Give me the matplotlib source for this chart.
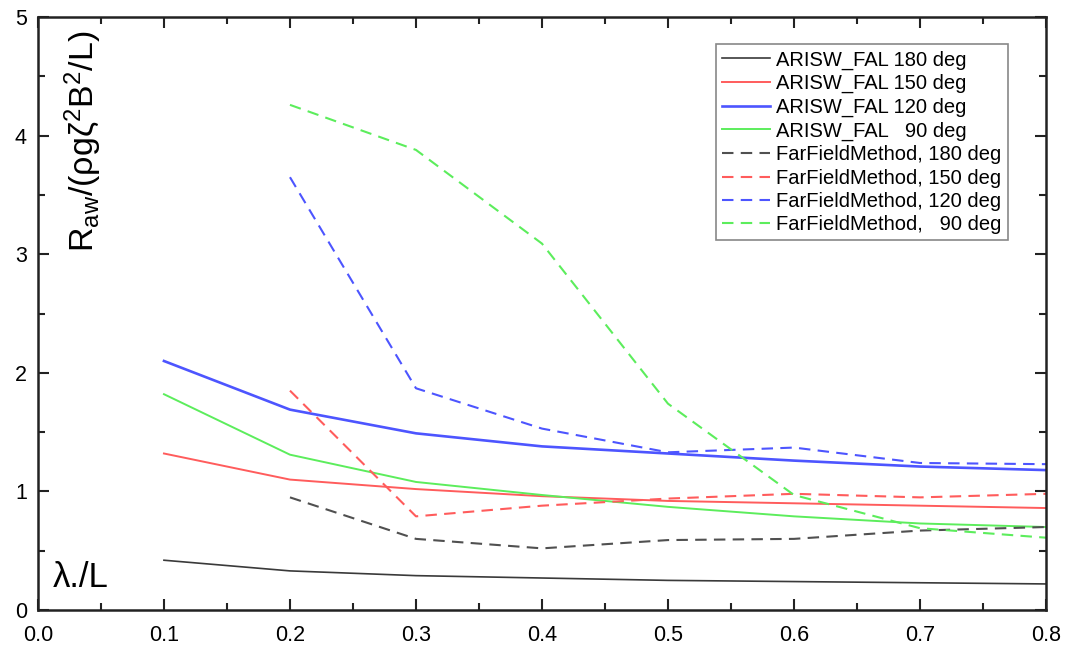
import numpy as np
import matplotlib
matplotlib.use('Agg')
import matplotlib.pyplot as plt
from matplotlib.ticker import MultipleLocator

plt.rcParams['font.family'] = ['Liberation Sans', 'DejaVu Sans']
plt.rcParams['mathtext.fontset'] = 'custom'
plt.rcParams['mathtext.rm'] = 'Liberation Sans'
plt.rcParams['mathtext.default'] = 'regular'

# wave length ratio
x_fal = [0.1, 0.2, 0.3, 0.4, 0.5, 0.6, 0.7, 0.8]
x_ffm = [0.2, 0.3, 0.4, 0.5, 0.6, 0.7, 0.8]

fal_180 = [0.42, 0.33, 0.29, 0.27, 0.25, 0.24, 0.23, 0.22]
fal_150 = [1.32, 1.10, 1.02, 0.96, 0.92, 0.90, 0.88, 0.86]
fal_120 = [2.10, 1.69, 1.49, 1.38, 1.32, 1.26, 1.21, 1.18]
fal_90 = [1.82, 1.31, 1.08, 0.97, 0.87, 0.79, 0.73, 0.70]

ffm_180 = [0.95, 0.60, 0.52, 0.59, 0.60, 0.67, 0.70]
ffm_150 = [1.85, 0.79, 0.88, 0.94, 0.98, 0.95, 0.98]
ffm_120 = [3.65, 1.87, 1.53, 1.33, 1.37, 1.24, 1.23]
ffm_90 = [4.26, 3.88, 3.09, 1.74, 0.97, 0.69, 0.61]

c_black = '#3a3a3a'
c_red = '#ff5c5c'
c_blue = '#4d55ff'
c_green = '#5ced5c'
c_gray = '#505050'

fig = plt.figure(figsize=(10.69, 6.48), dpi=100)
ax = fig.add_axes([0.0355, 0.0586, 0.943, 0.915])

ax.plot(x_fal, fal_180, color=c_black, lw=1.2, label='ARISW_FAL 180 deg')
ax.plot(x_fal, fal_150, color=c_red, lw=1.4, label='ARISW_FAL 150 deg')
ax.plot(x_fal, fal_120, color=c_blue, lw=1.9, label='ARISW_FAL 120 deg')
ax.plot(x_fal, fal_90, color=c_green, lw=1.4, label='ARISW_FAL   90 deg')

dash = (5.5, 3.5)
ax.plot(x_ffm, ffm_180, color=c_gray, lw=1.5, dashes=dash, label='FarFieldMethod, 180 deg')
ax.plot(x_ffm, ffm_150, color=c_red, lw=1.5, dashes=dash, label='FarFieldMethod, 150 deg')
ax.plot(x_ffm, ffm_120, color=c_blue, lw=1.5, dashes=dash, label='FarFieldMethod, 120 deg')
ax.plot(x_ffm, ffm_90, color=c_green, lw=1.5, dashes=dash, label='FarFieldMethod,   90 deg')

ax.set_xlim(0, 0.8)
ax.set_ylim(0, 5)
ax.xaxis.set_major_locator(MultipleLocator(0.1))
ax.xaxis.set_minor_locator(MultipleLocator(0.05))
ax.yaxis.set_major_locator(MultipleLocator(1))
ax.yaxis.set_minor_locator(MultipleLocator(0.5))
ax.xaxis.set_major_formatter(plt.FormatStrFormatter('%.1f'))
ax.tick_params(which='both', direction='in', top=True, right=True,
               width=1.5, labelsize=15.5, color='#222222')
ax.tick_params(axis='x', which='major', length=8, pad=11)
ax.tick_params(axis='y', which='major', length=8, pad=8)
ax.tick_params(which='minor', length=5)
for s in ax.spines.values():
    s.set_linewidth(1.8)
    s.set_color('#222222')

ax.text(0.024, 0.977, r'R$_{aw}$/(ρgζ$^{2}$B$^{2}$/L)', transform=ax.transAxes,
        rotation=90, fontsize=24.5, va='top', ha='left')
ax.text(0.015, 0.055, 'λ./L', transform=ax.transAxes, fontsize=25,
        va='center', ha='left')

leg = ax.legend(loc='upper right', bbox_to_anchor=(0.962, 0.954), fontsize=14.5,
                handlelength=2.4, handletextpad=0.3, labelspacing=0.22,
                borderaxespad=0, fancybox=False, framealpha=1,
                edgecolor='#888888', borderpad=0.3)
leg.get_frame().set_linewidth(1.2)

fig.savefig('out.png', dpi=100)
